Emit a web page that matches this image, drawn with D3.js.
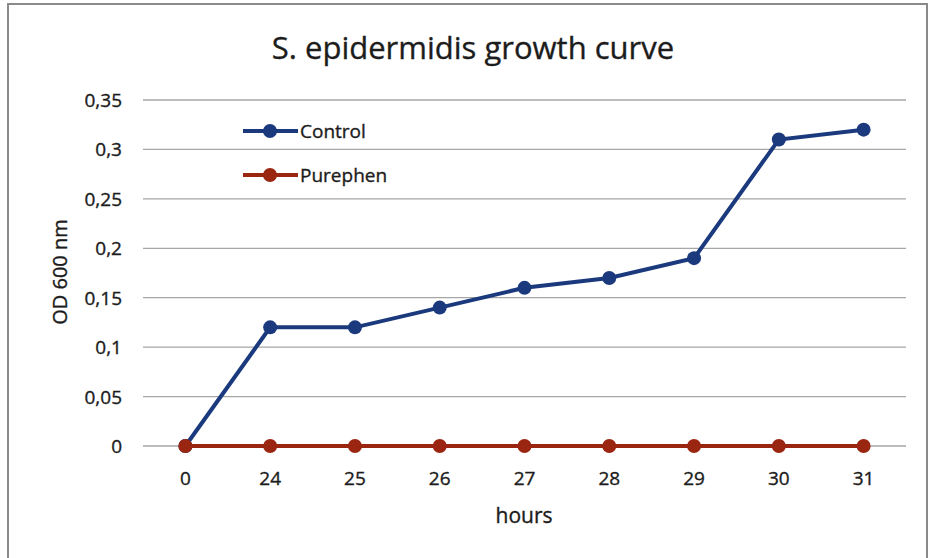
<!DOCTYPE html>
<html>
<head>
<meta charset="utf-8">
<script src="https://cdn.jsdelivr.net/npm/d3@7"></script>
<style>
  body { margin: 0; background: #fff; }
  text { font-family: "Open Sans", "Noto Sans", sans-serif; fill: #1c1c1c; stroke: #1c1c1c; stroke-width: 0.35px; }
</style>
</head>
<body>
<svg id="chart" width="930" height="558"></svg>
<script>
const hours = ['0', '24', '25', '26', '27', '28', '29', '30', '31'];
const control = [0, 0.12, 0.12, 0.14, 0.16, 0.17, 0.19, 0.31, 0.32];
const purephen = [0, 0, 0, 0, 0, 0, 0, 0, 0];
const yTicks = [0, 0.05, 0.1, 0.15, 0.2, 0.25, 0.3, 0.35];
const seriesNames = ['Control', 'Purephen'];
const seriesColors = ['#1b3a7e', '#9a2510'];

let svg = d3.select('#chart');

// outer frame
svg.append('rect')
    .attr('x', 8).attr('y', 4)
    .attr('width', 919).attr('height', 600)
    .attr('fill', 'none')
    .attr('stroke', '#8a8a8a')
    .attr('stroke-width', 2);

let x = d3.scaleBand().domain(hours).range([143, 906]);
let y = d3.scaleLinear().domain([0, 0.35]).range([446, 100]);
const fmt = d => String(+d.toFixed(2)).replace('.', ',');

// gridlines
svg.append('g')
    .selectAll('line')
    .data(yTicks)
    .enter()
    .append('line')
    .attr('x1', 143).attr('x2', 906)
    .attr('y1', d => y(d)).attr('y2', d => y(d))
    .attr('stroke', '#a6a6a6')
    .attr('stroke-width', 1.3);

// y tick labels
svg.append('g')
    .selectAll('text')
    .data(yTicks)
    .enter()
    .append('text')
    .attr('x', 122)
    .attr('y', d => y(d) + 7)
    .attr('text-anchor', 'end')
    .style('font-size', '19px')
    .text(fmt);

// x tick labels
svg.append('g')
    .selectAll('text')
    .data(hours)
    .enter()
    .append('text')
    .attr('x', d => x(d) + x.bandwidth() / 2)
    .attr('y', 485)
    .attr('text-anchor', 'middle')
    .style('font-size', '19px')
    .text(d => d);

// title + axis titles
svg.append('text')
    .attr('x', 473).attr('y', 59)
    .attr('text-anchor', 'middle')
    .style('font-size', '31px')
    .text('S. epidermidis growth curve');

svg.append('text')
    .attr('x', 524).attr('y', 523)
    .attr('text-anchor', 'middle')
    .style('font-size', '21px')
    .text('hours');

svg.append('text')
    .attr('transform', 'translate(67,272) rotate(-90)')
    .attr('text-anchor', 'middle')
    .style('font-size', '20px')
    .text('OD 600 nm');

// series
let line = d3.line()
    .x((d, i) => x(hours[i]) + x.bandwidth() / 2)
    .y(d => y(d));

[control, purephen].forEach((vals, s) => {
    let g = svg.append('g');
    g.append('path')
        .datum(vals)
        .attr('d', line)
        .attr('fill', 'none')
        .attr('stroke', seriesColors[s])
        .attr('stroke-width', 4);
    g.selectAll('circle')
        .data(vals)
        .enter()
        .append('circle')
        .attr('cx', (d, i) => x(hours[i]) + x.bandwidth() / 2)
        .attr('cy', d => y(d))
        .attr('r', 7)
        .attr('fill', seriesColors[s]);
});

// legend
let legend = svg.append('g');
seriesNames.forEach((name, i) => {
    let ly = 131 + i * 44;
    legend.append('line')
        .attr('x1', 243).attr('x2', 298)
        .attr('y1', ly).attr('y2', ly)
        .attr('stroke', seriesColors[i])
        .attr('stroke-width', 4);
    legend.append('circle')
        .attr('cx', 270).attr('cy', ly)
        .attr('r', 7)
        .attr('fill', seriesColors[i]);
    legend.append('text')
        .attr('x', 300).attr('y', ly + 7)
        .style('font-size', '19px')
        .text(name);
});
</script>
</body>
</html>
